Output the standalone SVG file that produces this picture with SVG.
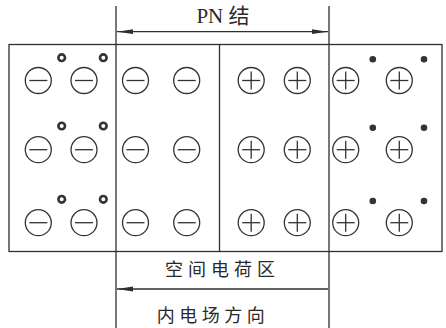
<svg xmlns="http://www.w3.org/2000/svg" width="446" height="328" viewBox="0 0 446 328">
<defs>
<style>
.ln{stroke:#2f2f2f;stroke-width:1.3;fill:none}
.ion{stroke:#333;stroke-width:1.3;fill:none}
.hole{stroke:#333;stroke-width:2.6;fill:none}
.el{fill:#333}
.t{fill:#2a2a2a;font-family:"Liberation Serif","Noto Sans CJK SC",serif}
.c{fill:#2a2a2a;font-family:"Noto Sans CJK SC","Noto Sans CJK JP",sans-serif;font-size:18px}
</style>
<marker id="ah" viewBox="0 0 16 6" refX="16" refY="3" markerWidth="16" markerHeight="6" markerUnits="userSpaceOnUse" orient="auto-start-reverse">
<path d="M0,0.6 L16,3 L0,5.4 Z" fill="#2f2f2f"/>
</marker>
<g id="neg"><circle r="13" class="ion"/><line x1="-9" y1="0" x2="9" y2="0" class="ion"/></g>
<g id="pos"><circle r="13" class="ion"/><line x1="-9" y1="0" x2="9" y2="0" class="ion"/><line x1="0" y1="-9" x2="0" y2="9" class="ion"/></g>
</defs>
<rect width="446" height="328" fill="#fff"/>

<g id="connectors">
<rect x="9" y="44.5" width="433" height="207" class="ln"/>
<line x1="116" y1="6" x2="116" y2="328" class="ln"/>
<line x1="329" y1="6" x2="329" y2="328" class="ln"/>
<line x1="219.5" y1="44.5" x2="219.5" y2="251.5" class="ln"/>
<line x1="117" y1="31.7" x2="328" y2="31.7" class="ln" marker-start="url(#ah)" marker-end="url(#ah)"/>
<line x1="328" y1="289" x2="117" y2="289" class="ln" marker-end="url(#ah)"/>
</g>

<g id="p-region">
<use href="#neg" x="38.3" y="80.5"/><use href="#neg" x="84" y="80.5"/>
<use href="#neg" x="38.3" y="149.7"/><use href="#neg" x="84" y="149.7"/>
<use href="#neg" x="38.3" y="222.7"/><use href="#neg" x="84" y="222.7"/>
<circle cx="61.7" cy="57.7" r="3.3" class="hole"/><circle cx="103.3" cy="57.7" r="3.3" class="hole"/>
<circle cx="61.7" cy="126" r="3.3" class="hole"/><circle cx="103.3" cy="126" r="3.3" class="hole"/>
<circle cx="61.7" cy="199.3" r="3.3" class="hole"/><circle cx="103.3" cy="199.3" r="3.3" class="hole"/>
</g>

<g id="depletion-negative">
<use href="#neg" x="135.5" y="80.5"/><use href="#neg" x="186.7" y="80.5"/>
<use href="#neg" x="135.5" y="149.7"/><use href="#neg" x="186.7" y="149.7"/>
<use href="#neg" x="135.5" y="222.7"/><use href="#neg" x="186.7" y="222.7"/>
</g>

<g id="depletion-positive">
<use href="#pos" x="251.2" y="80.5"/><use href="#pos" x="297.3" y="80.5"/>
<use href="#pos" x="251.2" y="149.7"/><use href="#pos" x="297.3" y="149.7"/>
<use href="#pos" x="251.2" y="222.7"/><use href="#pos" x="297.3" y="222.7"/>
</g>

<g id="n-region">
<use href="#pos" x="345.7" y="80.5"/><use href="#pos" x="399.3" y="80.5"/>
<use href="#pos" x="345.7" y="149.7"/><use href="#pos" x="399.3" y="149.7"/>
<use href="#pos" x="345.7" y="222.7"/><use href="#pos" x="399.3" y="222.7"/>
<circle cx="372.8" cy="59.3" r="3.3" class="el"/><circle cx="424" cy="59.3" r="3.3" class="el"/>
<circle cx="372.8" cy="127.7" r="3.3" class="el"/><circle cx="424" cy="127.7" r="3.3" class="el"/>
<circle cx="372.8" cy="201" r="3.3" class="el"/><circle cx="424" cy="201" r="3.3" class="el"/>
</g>

<g id="label-pn">
<text x="223" y="23" class="t" font-size="21" text-anchor="middle">PN 结</text>
</g>
<g id="label-space-charge">
<text x="222.5" y="276" class="c" text-anchor="middle" letter-spacing="5">空间电荷区</text>
</g>
<g id="label-field">
<text x="213" y="321.5" class="c" text-anchor="middle" letter-spacing="4.5">内电场方向</text>
</g>
</svg>
